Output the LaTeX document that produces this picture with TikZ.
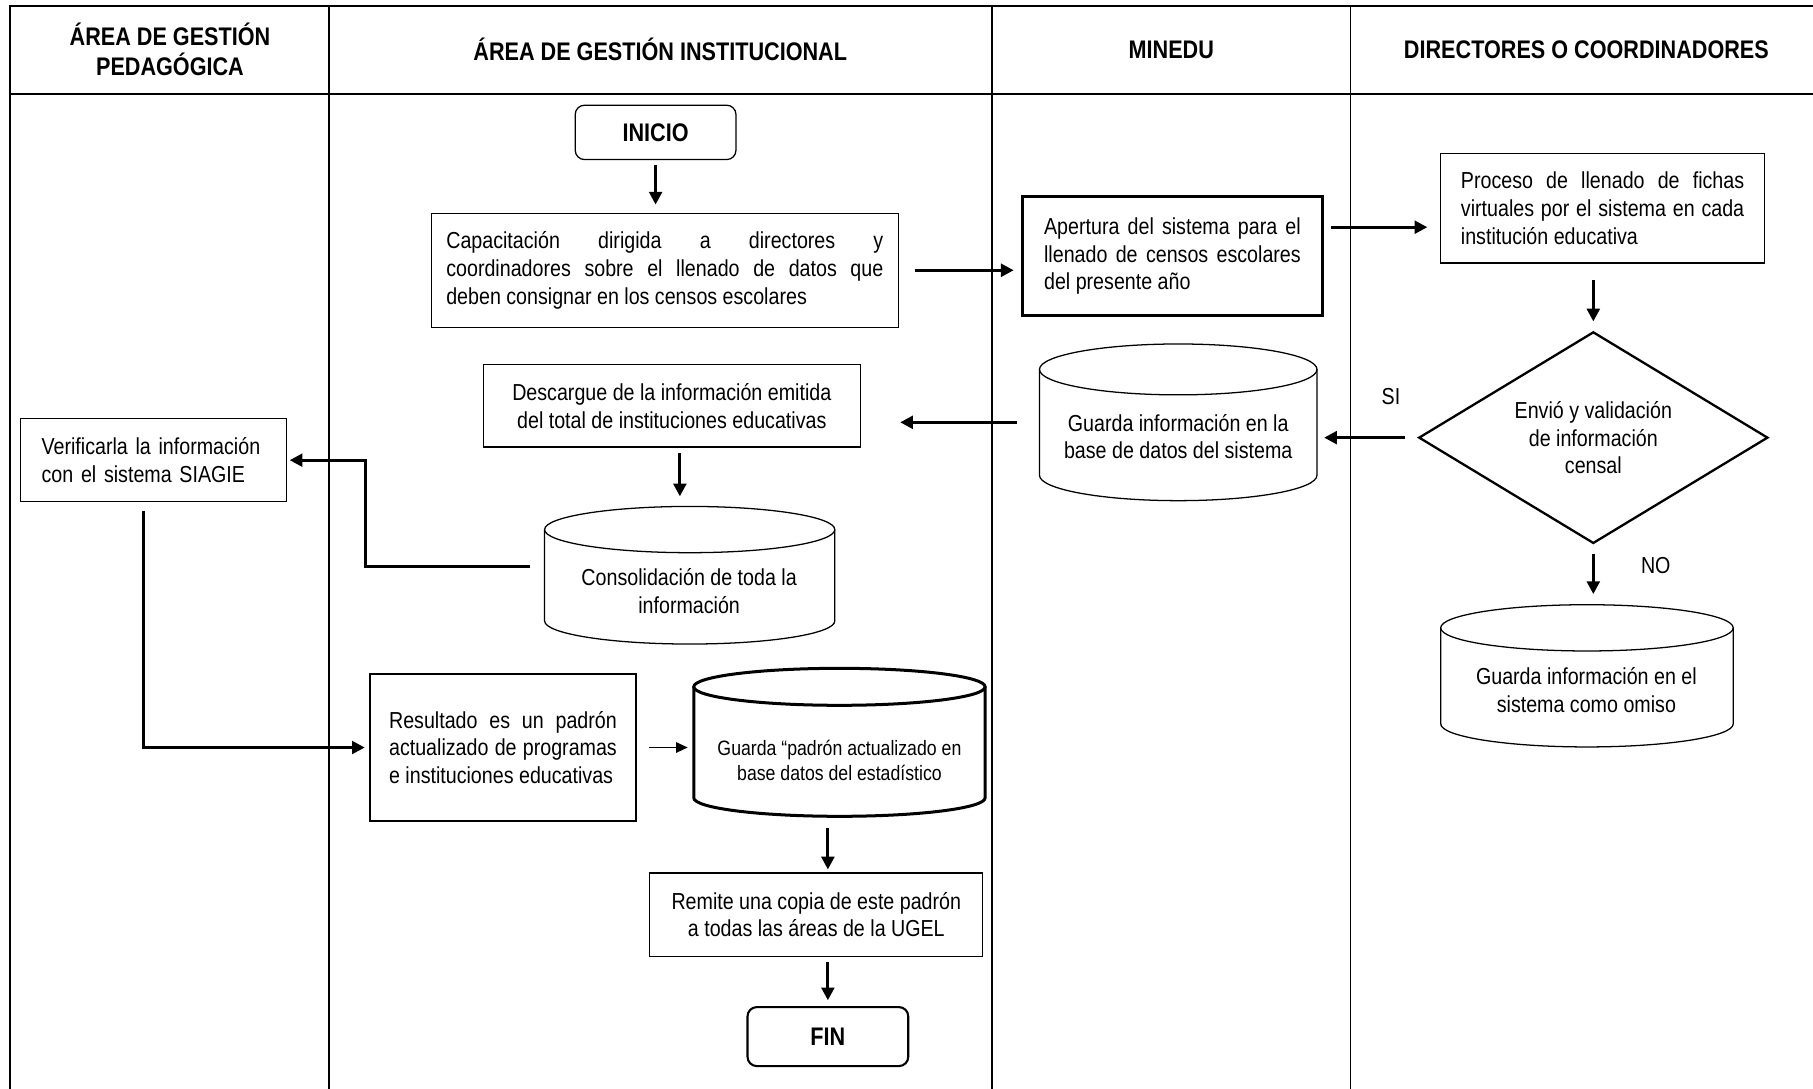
\documentclass[tikz,border=0pt]{standalone}
\usepackage{fontspec}
\setmainfont[FakeStretch=0.85]{Liberation Sans}
\usetikzlibrary{arrows.meta,calc,shapes.geometric}
\newcommand\bodyfont{\fontsize{20}{24}\selectfont}
\newcommand\smallbody{\fontsize{18}{22}\selectfont}
\newcommand\headfont{\fontsize{22}{26}\selectfont\bfseries}
% cylinder outline: #1 style, #2 x0, #3 y0 (top), #4 x1, #5 y1 (bottom), #6 ry
\newcommand\mycyl[6]{%
  \pgfmathsetmacro\cylcx{(#2+#4)/2}%
  \pgfmathsetmacro\cylrx{(#4-#2)/2}%
  \pgfmathsetmacro\cylkx{0.5523*\cylrx}%
  \pgfmathsetmacro\cylky{0.5523*#6}%
  \pgfmathsetmacro\cylya{#3+#6}%
  \pgfmathsetmacro\cylyb{#5-#6}%
  \draw[#1] (\cylcx,\cylya) ellipse [x radius=\cylrx, y radius=#6];
  \draw[#1] (#2,\cylya) -- (#2,\cylyb)
    .. controls (#2,\cylyb+\cylky) and (\cylcx-\cylkx,#5) .. (\cylcx,#5)
    .. controls (\cylcx+\cylkx,#5) and (#4,\cylyb+\cylky) .. (#4,\cylyb) -- (#4,\cylya);
}
\begin{document}
\begin{tikzpicture}[x=1pt,y=-1pt,
  lane/.style={line width=1.6pt},
  box/.style={draw, line width=1.1pt, inner sep=0pt, font=\bodyfont},
  term/.style={box, rounded corners=8pt, font=\headfont},
  cylline/.style={line width=1.1pt},
  cylthick/.style={line width=2.6pt},
  cylnode/.style={inner sep=0pt},
  lbl/.style={font=\bodyfont, inner sep=0pt, align=center},
  arr/.style={line width=2.6pt, -{Triangle[length=11pt,width=11pt]}},
  tarr/.style={line width=1.2pt, -{Triangle[length=10pt,width=9pt]}},
  ]
\useasboundingbox (0,0) rectangle (1568,941);
% frame
\draw[lane] (1580,5.2) -- (8.7,5.2) -- (8.7,950);
\draw[lane] (8.7,81.3) -- (1580,81.3);
\draw[lane] (284.8,5.2) -- (284.8,950);
\draw[lane] (857.7,5.2) -- (857.7,950);
\draw[lane] (1168,5.2) -- (1168,950);
% headers
\node[font=\headfont, align=center] (h1) at (147,43) {ÁREA DE GESTIÓN\\PEDAGÓGICA};
\node[font=\headfont] (h2) at (571,43) {ÁREA DE GESTIÓN INSTITUCIONAL};
\node[font=\headfont] (h3) at (1013,43) {MINEDU};
\node[font=\headfont] (h4) at (1372,43) {DIRECTORES O COORDINADORES};
% nodes
\node[term, minimum width=139pt, minimum height=47pt] (inicio) at (567,114.5) {INICIO};
\node[box, minimum width=404pt, minimum height=98.5pt, text width=378pt, align=justify] (cap) at (575,233.75)
  {Capacitación dirigida a directores y\linebreak coordinadores sobre el llenado de datos que\linebreak deben consignar en los censos escolares};
\node[box, line width=2.6pt, minimum width=260pt, minimum height=103pt, text width=222pt, align=justify] (ape) at (1014,221.5)
  {Apertura del sistema para el\linebreak llenado de censos escolares\linebreak del presente año};
\node[box, minimum width=280pt, minimum height=95pt, text width=245pt, align=justify] (pro) at (1386,180)
  {Proceso de llenado de fichas\linebreak virtuales por el sistema en cada\linebreak institución educativa};
\node[draw, diamond, line width=2pt, minimum width=302pt, minimum height=183pt, aspect=1.65, inner sep=0pt, font=\bodyfont, align=center] (dia) at (1378,378.5)
  {Envió y validación\\de información\\censal};
% cylinder: base de datos
\node[cylnode, minimum width=240pt, minimum height=135.5pt] (gbase) at (1019,365.25) {};
\mycyl{cylline}{899}{297.5}{1139}{433}{22}
\node[lbl] (gbaseT) at (1019,377.5) {Guarda información en la\\base de datos del sistema};
\node[box, minimum width=326pt, minimum height=71pt, align=center] (desc) at (581,351)
  {Descargue de la información emitida\\del total de instituciones educativas};
% cylinder: consolidacion
\node[cylnode, minimum width=251pt, minimum height=119pt] (cons) at (596.5,497.5) {};
\mycyl{cylline}{471}{438}{722}{557}{20}
\node[lbl] (consT) at (596,511.5) {Consolidación de toda la\\información};
\node[box, minimum width=230pt, minimum height=72pt, text width=194pt, align=left] (ver) at (133,398)
  {Verificarla la información\\con el sistema SIAGIE};
\node[box, minimum width=230pt, minimum height=127pt, text width=197pt, align=justify] (res) at (435,646.5)
  {Resultado es un padrón\linebreak actualizado de programas\linebreak e instituciones educativas};
% cylinder: padron
\node[cylnode, minimum width=252pt, minimum height=128pt] (gpad) at (726,642) {};
\mycyl{cylthick}{600}{578}{852}{706}{16}
\node[lbl, font=\smallbody] (gpadT) at (726,657.5) {Guarda “padrón actualizado en\\base datos del estadístico};
\node[box, minimum width=288pt, minimum height=72pt, align=center] (rem) at (706,791)
  {Remite una copia de este padrón\\a todas las áreas de la UGEL};
\node[term, line width=1.8pt, minimum width=139pt, minimum height=51pt] (fin) at (716,896.5) {FIN};
% cylinder: omiso
\node[cylnode, minimum width=253pt, minimum height=123pt] (omiso) at (1372.5,584.5) {};
\mycyl{cylline}{1246}{523}{1499}{646}{20}
\node[lbl] (omisoT) at (1372,597) {Guarda información en el\\sistema como omiso};
% labels
\node[lbl] (si) at (1203,343) {SI};
\node[lbl] (no) at (1432,489) {NO};
% connectors
\draw[arr, shorten <=4pt, shorten >=7pt] (inicio.south) -- (cap.north -| inicio.south);
\draw[arr, shorten <=14pt, shorten >=6pt] (cap.east) -- (cap.east -| ape.west);
\draw[arr, shorten <=6pt, shorten >=11pt] ([yshift=25pt]ape.east) -- ([yshift=25pt]ape.east -| pro.west);
\draw[arr, shorten <=14pt, shorten >=8pt] (pro.south -| dia.north) -- (dia.north);
\draw[arr, shorten <=11pt, shorten >=6pt] (dia.west) -- (dia.west -| gbase.east);
\draw[arr, shorten <=19pt, shorten >=34pt] (gbase.west) -- (gbase.west -| desc.east);
\draw[arr, shorten <=5pt, shorten >=8.5pt] ([xshift=7pt]desc.south) -- ([xshift=7pt]desc.south |- cons.north);
\coordinate (b1) at (316,0);
\draw[arr, shorten >=2pt] ([xshift=-12pt,yshift=7.5pt]cons.west) -| (b1 |- ver.east) -- (ver.east);
\coordinate (b2) at (124,0);
\draw[arr, shorten >=4pt] ([yshift=-7pt]b2 |- ver.south) |- (res.west);
\draw[tarr, shorten <=11pt, shorten >=5pt] (res.east) -- (res.east -| gpad.west);
\draw[arr, shorten <=10pt, shorten >=2.5pt] (gpad.south -| fin.north) -- (rem.north -| fin.north);
\draw[arr, shorten <=4.5pt, shorten >=5pt] (rem.south -| fin.north) -- (fin.north);
\draw[arr, shorten <=8pt, shorten >=9pt] (dia.south) -- (dia.south |- omiso.north);
\end{tikzpicture}
\end{document}
